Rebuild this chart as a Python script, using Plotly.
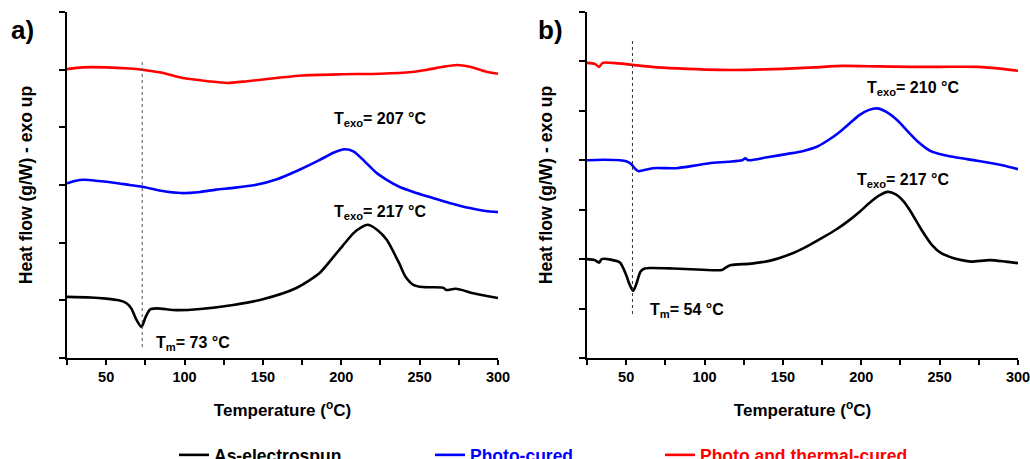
import plotly.graph_objects as go

# ---------------- data ----------------
# Panel a)
a_black_T = [25, 40, 50, 58, 63, 66, 69, 72.5, 75, 78, 82, 95, 110, 131, 150, 171, 186, 194, 201, 208, 213, 217, 223, 229, 237, 241, 246, 252, 265, 267, 273, 285, 300]
a_black_y = [1.06, 1.05, 1.03, 1.0, 0.95, 0.86, 0.68, 0.54, 0.70, 0.84, 0.86, 0.83, 0.85, 0.92, 1.02, 1.21, 1.47, 1.72, 1.95, 2.17, 2.27, 2.31, 2.22, 2.05, 1.64, 1.41, 1.27, 1.23, 1.22, 1.18, 1.20, 1.12, 1.04]

a_blue_T = [25, 30, 36, 45, 55, 65, 73, 85, 98, 110, 120, 131, 145, 159, 173, 186, 195, 202, 208, 216, 222, 229, 237, 246, 258, 269, 282, 292, 300]
a_blue_y = [3.03, 3.07, 3.09, 3.07, 3.04, 3.0, 2.97, 2.90, 2.86, 2.88, 2.92, 2.95, 3.0, 3.10, 3.26, 3.43, 3.56, 3.62, 3.58, 3.38, 3.22, 3.09, 2.97, 2.88, 2.78, 2.69, 2.60, 2.55, 2.53]

a_red_T = [25, 35, 50, 65, 73, 85, 100, 115, 127, 140, 160, 175, 200, 225, 245, 255, 265, 274, 282, 292, 300]
a_red_y = [5.01, 5.04, 5.04, 5.02, 5.0, 4.95, 4.85, 4.80, 4.77, 4.80, 4.86, 4.90, 4.92, 4.93, 4.96, 5.0, 5.05, 5.08, 5.05, 4.97, 4.93]

# Panel b)
b_black_T = [25, 30, 32.7, 34.4, 40, 46, 50, 52, 54.4, 56.5, 59, 61, 65, 80, 95, 111, 113.5, 117, 130, 142, 157, 166, 175, 184, 192, 199, 205, 211, 217, 222, 227, 231, 238.5, 245, 251, 258, 264, 270, 282, 292, 300]
b_black_y = [2.0, 1.98, 1.93, 2.0, 1.99, 1.93, 1.68, 1.50, 1.36, 1.50, 1.74, 1.80, 1.82, 1.81, 1.79, 1.78, 1.83, 1.88, 1.91, 1.97, 2.13, 2.27, 2.43, 2.60, 2.78, 2.96, 3.13, 3.28, 3.36, 3.31, 3.17, 2.99, 2.59, 2.29, 2.12, 2.03, 1.98, 1.95, 1.98, 1.95, 1.92]

b_blue_T = [25, 35, 46, 50, 53, 56, 58, 61, 67, 82, 95, 103, 115, 124, 126, 128, 140, 153, 163, 172, 180, 188, 199, 205, 210, 216, 223, 231, 236, 244, 252, 262, 274, 290, 300]
b_blue_y = [4.0, 4.01, 4.0, 3.98, 3.93, 3.82, 3.78, 3.80, 3.84, 3.84, 3.90, 3.94, 3.97, 4.0, 4.04, 4.0, 4.06, 4.13, 4.19, 4.28, 4.43, 4.62, 4.92, 5.02, 5.05, 4.98, 4.81, 4.54, 4.38, 4.19, 4.11, 4.05, 3.99, 3.90, 3.82]

b_red_T = [25, 30, 32.7, 35, 45, 54, 70, 89, 110, 127, 150, 170, 188, 210, 231, 250, 274, 290, 300]
b_red_y = [5.97, 5.95, 5.89, 5.97, 5.96, 5.93, 5.88, 5.85, 5.83, 5.83, 5.85, 5.88, 5.91, 5.90, 5.89, 5.89, 5.89, 5.85, 5.81]

series_names = ["As-electrospun", "Photo-cured", "Photo and thermal-cured"]
series_colors = ["#000000", "#0000FF", "#FF0000"]

tm_a, tm_b = 73, 54
texo_a = [207, 217]   # photo-cured, as-electrospun
texo_b = [210, 217]

x_ticks = [25, 50, 75, 100, 125, 150, 175, 200, 225, 250, 275, 300]
x_ticktext = ["" if t % 50 else str(t) for t in x_ticks]

FONT = "Arial, Liberation Sans, sans-serif"

fig = go.Figure()

panels = [
    ("x", "y", [(a_black_T, a_black_y), (a_blue_T, a_blue_y), (a_red_T, a_red_y)], True),
    ("x2", "y2", [(b_black_T, b_black_y), (b_blue_T, b_blue_y), (b_red_T, b_red_y)], False),
]
legend_ids = ["legend", "legend2", "legend3"]
for xa, ya, curves, show in panels:
    for i, (T, y) in enumerate(curves):
        fig.add_trace(go.Scatter(
            x=T, y=y, mode="lines", name=series_names[i],
            line=dict(color=series_colors[i], width=2.6, shape="spline", smoothing=0.7),
            xaxis=xa, yaxis=ya, showlegend=show, legend=legend_ids[i],
        ))

# dotted Tm guide lines
fig.add_trace(go.Scatter(x=[tm_a, tm_a], y=[0.19, 5.13], mode="lines",
                         line=dict(color="#555555", width=1, dash="dot"),
                         xaxis="x", yaxis="y", showlegend=False))
fig.add_trace(go.Scatter(x=[tm_b, tm_b], y=[0.89, 6.47], mode="lines",
                         line=dict(color="#333333", width=1, dash="dot"),
                         xaxis="x2", yaxis="y2", showlegend=False))

ax_common = dict(
    showline=True, linecolor="black", linewidth=2, showgrid=False, zeroline=False,
    ticks="outside", ticklen=5, tickwidth=1.5, tickcolor="black",
    mirror=False,
)
xa_common = dict(ax_common, range=[25, 300], tickvals=x_ticks, ticktext=x_ticktext,
                 ticklabeloverflow="allow",
                 tickfont=dict(family=FONT, size=14.5, color="black", weight="bold"),
                 title=dict(text="<b>Temperature (<sup>o</sup>C)</b>",
                            font=dict(family=FONT, size=17, color="black"), standoff=20))
ya_title = dict(text="<b>Heat flow (g/W) - exo up</b>",
                font=dict(family=FONT, size=17.5, color="black"), standoff=22)

fig.update_layout(
    width=1030, height=459,
    margin=dict(l=67, r=12, t=12, b=101, autoexpand=False),
    paper_bgcolor="white", plot_bgcolor="white",
    font=dict(family=FONT, color="black"),
    xaxis=dict(xa_common, domain=[0, 0.4532], anchor="y"),
    xaxis2=dict(xa_common, domain=[0.5468, 1], anchor="y2"),
    yaxis=dict(ax_common, range=[0, 6], tickvals=[0, 1, 2, 3, 4, 5, 6], showticklabels=False,
               ticklen=6, anchor="x", title=ya_title),
    yaxis2=dict(ax_common, range=[0, 7], tickvals=[0, 1, 2, 3, 4, 5, 6, 7], showticklabels=False,
                ticklen=6, anchor="x2", title=ya_title),
)

leg_x_px = [174, 430, 660]
for lid, px, col in zip(legend_ids, leg_x_px, series_colors):
    fig.layout[lid] = dict(
        orientation="h", x=(px - 67) / 951, xanchor="left",
        y=(358 - 455) / 346, yanchor="middle", bgcolor="rgba(0,0,0,0)",
        font=dict(family=FONT, size=17.5, color=col, weight="bold"),
    )

ann_font = dict(family=FONT, size=16, color="black")
def ann(text, x, y, xref, yref, size=None):
    f = dict(ann_font)
    if size:
        f["size"] = size
    fig.add_annotation(text=text, x=x, y=y, xref=xref, yref=yref,
                       showarrow=False, font=f, xanchor="center", yanchor="middle")

ann(f"<b>T<sub>exo</sub>= {texo_a[0]} °C</b>", 224.6, 4.13, "x", "y")
ann(f"<b>T<sub>exo</sub>= {texo_a[1]} °C</b>", 224.6, 2.53, "x", "y")
ann(f"<b>T<sub>m</sub>= {tm_a} °C</b>", 105.7, 0.26, "x", "y")
ann(f"<b>T<sub>exo</sub>= {texo_b[0]} °C</b>", 233.0, 5.46, "x2", "y2")
ann(f"<b>T<sub>exo</sub>= {texo_b[1]} °C</b>", 226.6, 3.60, "x2", "y2")
ann(f"<b>T<sub>m</sub>= {tm_b} °C</b>", 88.8, 0.97, "x2", "y2")
ann("<b>a)</b>", (22 - 67) / 951, (358 - 30) / 346, "paper", "paper", size=26)
ann("<b>b)</b>", (550 - 67) / 951, (358 - 30) / 346, "paper", "paper", size=26)

fig.write_html("out.html", config={"displayModeBar": False},
               post_script="document.body.style.margin='0';document.body.style.overflow='hidden';")
